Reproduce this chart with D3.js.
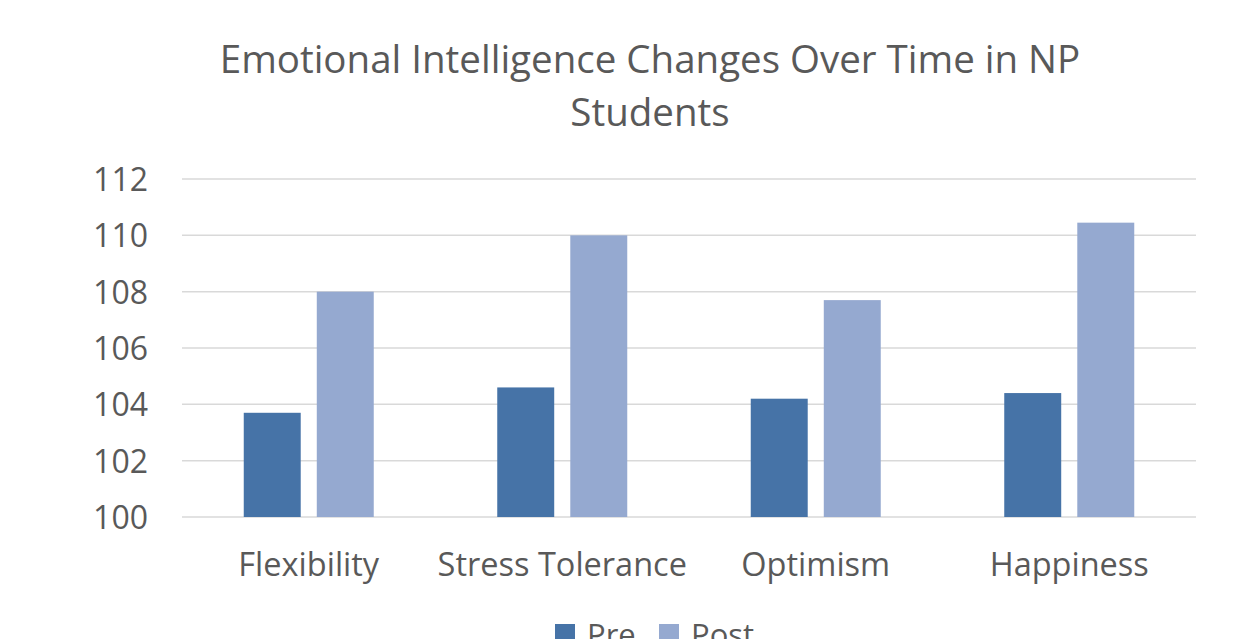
<!DOCTYPE html>
<html>
<head>
<meta charset="utf-8">
<script src="https://cdn.jsdelivr.net/npm/d3@7"></script>
<style>
  body { margin: 0; background: #fff; overflow: hidden; }
  text { font-family: "Open Sans", sans-serif; fill: #595959; }
</style>
</head>
<body>
<div class="chart"></div>
<script>
const categories = ["Flexibility", "Stress Tolerance", "Optimism", "Happiness"];
const seriesNames = ["Pre", "Post"];
const preValues = [103.7, 104.6, 104.2, 104.4];
const postValues = [108.0, 110.0, 107.7, 110.45];
const yTicks = [100, 102, 104, 106, 108, 110, 112];
const titleLines = ["Emotional Intelligence Changes Over Time in NP", "Students"];

const W = 1238, H = 639;
const colors = { Pre: "#4673A7", Post: "#95A9D0" };
const plot = { left: 182, right: 1196, top: 179, bottom: 517 };

const svg = d3.select(".chart").append("svg")
  .attr("width", W).attr("height", H);

// title
svg.selectAll(".title")
  .data(titleLines)
  .enter().append("text")
  .attr("class", "title")
  .attr("x", 650)
  .attr("y", (d, i) => 73 + i * 53)
  .attr("text-anchor", "middle")
  .style("font-size", "38.5px")
  .text(d => d);

const x = d3.scaleBand().domain(categories).range([plot.left, plot.right]);
const groupPad = (x.bandwidth() - 130) / 2;
const xInner = d3.scaleBand().domain(seriesNames)
  .range([groupPad, x.bandwidth() - groupPad]).paddingInner(0.22);
const y = d3.scaleLinear().domain([100, 112]).range([plot.bottom, plot.top]);

// gridlines
svg.append("g").selectAll("line")
  .data(yTicks)
  .enter().append("line")
  .attr("x1", plot.left).attr("x2", plot.right)
  .attr("y1", d => y(d)).attr("y2", d => y(d))
  .attr("stroke", "#d9d9d9").attr("stroke-width", 1.5);

// y axis labels
const yAxis = svg.append("g")
  .attr("transform", `translate(${plot.left - 34},0)`)
  .call(d3.axisLeft(y).tickValues(yTicks).tickSize(0).tickPadding(0));
yAxis.select(".domain").remove();
yAxis.selectAll("text").style("font-size", "32px").style("font-family", "Open Sans").attr("fill", "#595959").attr("dy", "0.36em");

// bars
const groups = svg.append("g").selectAll("g")
  .data(categories.map((c, i) => ({ c, vals: [["Pre", preValues[i]], ["Post", postValues[i]]] })))
  .enter().append("g")
  .attr("transform", d => `translate(${x(d.c)},0)`);

groups.selectAll("rect")
  .data(d => d.vals)
  .enter().append("rect")
  .attr("x", d => xInner(d[0]))
  .attr("width", xInner.bandwidth())
  .attr("y", d => y(d[1]))
  .attr("height", d => y(100) - y(d[1]))
  .attr("fill", d => colors[d[0]]);

// x axis labels
const xAxis = svg.append("g")
  .attr("transform", `translate(0,${plot.bottom + 36})`)
  .call(d3.axisBottom(x).tickSize(0).tickPadding(0));
xAxis.select(".domain").remove();
xAxis.selectAll("text").style("font-size", "32.5px").style("font-family", "Open Sans").attr("fill", "#595959").attr("dy", "0.71em");

// legend
const legend = svg.append("g").attr("transform", "translate(555,624)");
const li = legend.selectAll("g").data(seriesNames).enter().append("g")
  .attr("transform", (d, i) => `translate(${i * 104},0)`);
li.append("rect").attr("width", 20).attr("height", 20).attr("fill", d => colors[d]);
li.append("text").attr("x", 32).attr("y", 22).style("font-size", "31px").text(d => d);
</script>
</body>
</html>
